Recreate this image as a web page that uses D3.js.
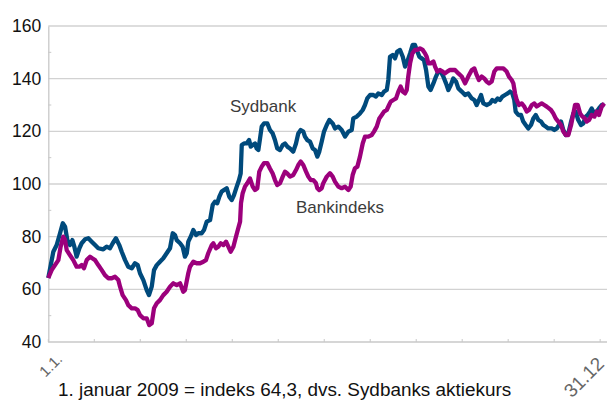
<!DOCTYPE html>
<html>
<head>
<meta charset="utf-8">
<script src="https://d3js.org/d3.v7.min.js"></script>
<style>
  body { margin: 0; background: #fff; }
  svg { display: block; font-family: "Liberation Sans", Arial, sans-serif; }
</style>
</head>
<body>
<div id="chart"></div>
<script>
  // Dag i året (0 = 1.1., 365 = 31.12) og indeksværdier
  var sydbankDage = [0, 3.3, 5.5, 7.7, 9.5, 11.0, 12.5, 14.2, 15.8, 17.1, 18.6, 20.4, 21.9, 24.1, 26.3, 28.5, 30.7, 32.8, 36.1, 38.3,
    40.5, 42.3, 44.4, 46.6, 48.2, 50.4, 52.5, 54.8, 56.9, 58.7, 60.2, 62.4, 64.6, 66.1, 67.9, 69.4, 71.2, 73.3, 75.5, 77.7,
    79.9, 81.7, 83.2, 84.3, 86.5, 88.2, 89.7, 90.9, 91.9, 93.5, 95.2, 97.0, 98.5, 100.7, 102.2, 104.0, 106.2, 107.9, 109.4, 110.9,
    112.3, 113.8, 115.3, 117.1, 118.8, 120.4, 121.9, 123.7, 125.2, 126.3, 127.0, 128.5, 130.2, 131.8, 132.9, 134.2, 135.7, 136.8, 137.9, 139.0,
    140.1, 141.6, 143.8, 145.5, 147.3, 148.8, 150.3, 152.1, 153.9, 155.4, 156.9, 158.7, 160.8, 162.6, 164.1, 165.7, 167.4, 168.5, 170.0, 171.8,
    173.6, 175.1, 176.6, 177.9, 179.5, 181.0, 182.8, 184.5, 186.7, 188.2, 190.4, 192.6, 194.8, 197.0, 199.2, 200.2, 202.5, 204.6, 206.4, 207.9,
    209.4, 211.2, 213.4, 215.1, 216.6, 218.9, 220.4, 222.2, 223.2, 224.3, 226.1, 227.6, 229.1, 230.9, 232.7, 234.2, 235.7, 237.5, 239.2, 240.7,
    241.9, 243.6, 245.1, 246.6, 248.0, 249.5, 251.0, 252.8, 254.5, 256.0, 257.6, 259.3, 261.1, 262.6, 264.2, 265.9, 267.7, 269.2, 271.4, 273.6,
    275.7, 278.0, 279.7, 281.2, 282.7, 284.1, 285.6, 287.8, 290.0, 291.5, 293.3, 295.0, 296.5, 298.1, 299.8, 301.6, 303.1, 304.6, 305.9, 306.8,
    308.6, 310.3, 311.8, 313.4, 315.1, 316.9, 318.4, 320.0, 321.7, 323.5, 325.0, 326.5, 328.2, 330.5, 332.2, 333.8, 335.3, 336.6, 338.1, 339.7,
    341.4, 343.2, 344.7, 346.2, 347.9, 349.7, 351.2, 352.8, 354.1, 355.6, 356.7, 358.5, 360.0, 361.5, 363.3, 365.0];
  var sydbankVaerdi = [64.3, 74.3, 76.8, 81.3, 85.1, 83.8, 78.7, 76.8, 78.7, 76.2, 72.4, 75.6, 77.5, 79.0, 79.4, 78.1, 76.8, 75.6, 75.2, 76.2,
    75.6, 77.5, 79.4, 76.8, 74.3, 71.1, 68.6, 68.0, 69.9, 69.2, 66.1, 63.5, 59.7, 57.8, 61.0, 67.3, 69.2, 70.5, 71.8, 73.7,
    75.6, 81.3, 80.6, 78.7, 77.5, 76.2, 72.4, 73.7, 78.1, 80.0, 82.5, 80.6, 81.3, 81.3, 82.5, 85.7, 86.3, 92.0, 93.3, 92.7,
    95.2, 97.1, 97.7, 98.4, 95.2, 93.9, 95.8, 99.0, 101.5, 104.0, 114.8, 115.4, 115.4, 116.7, 114.2, 114.8, 115.4, 113.5, 112.9, 117.3,
    121.8, 123.0, 123.0, 120.5, 119.2, 116.7, 113.5, 112.9, 114.8, 115.4, 114.2, 113.5, 112.3, 115.4, 119.2, 120.5, 119.9, 118.0, 116.7, 116.1,
    113.5, 112.9, 110.4, 112.3, 116.1, 119.9, 122.4, 124.3, 123.0, 121.1, 121.8, 120.5, 118.0, 119.9, 120.5, 124.9, 125.6, 126.8, 128.1, 130.0,
    132.5, 133.8, 133.8, 133.2, 134.4, 133.8, 135.1, 135.7, 139.5, 148.3, 149.0, 147.7, 150.3, 150.9, 148.3, 144.6, 146.5, 149.6, 152.8, 152.8,
    150.9, 148.3, 147.7, 147.1, 143.3, 137.0, 135.7, 138.2, 140.8, 142.7, 142.7, 140.8, 138.2, 135.7, 137.6, 140.1, 138.9, 136.3, 135.1, 133.8,
    134.4, 132.5, 131.9, 130.0, 131.9, 133.8, 130.6, 130.0, 130.6, 131.9, 131.3, 132.5, 131.9, 133.2, 133.8, 134.4, 135.1, 134.4, 131.9, 127.5,
    126.2, 126.2, 123.7, 122.4, 121.1, 122.4, 124.9, 126.2, 124.3, 123.7, 122.4, 121.8, 121.1, 121.1, 120.5, 121.1, 122.4, 123.7, 120.5, 118.6,
    119.2, 123.7, 126.8, 127.5, 124.3, 122.4, 123.0, 125.6, 126.2, 127.5, 128.7, 126.8, 127.5, 128.7, 130.0, 130.0];

  var bankDage = [0, 2.2, 4.4, 6.6, 8.1, 9.8, 11.0, 12.1, 14.2, 16.4, 18.6, 20.4, 21.9, 23.4, 25.2, 27.4, 29.1, 30.7, 32.8, 35.1,
    37.2, 39.4, 41.6, 43.8, 46.0, 47.1, 48.8, 51.0, 52.5, 54.8, 56.9, 58.7, 60.2, 62.4, 64.6, 66.3, 67.9, 69.4, 71.2, 73.3,
    75.5, 77.7, 79.9, 82.1, 84.3, 86.5, 88.6, 89.7, 91.9, 93.0, 95.2, 97.4, 99.6, 101.8, 103.5, 105.0, 107.3, 108.3, 110.1, 111.6,
    113.2, 114.9, 116.7, 118.2, 119.7, 121.5, 123.2, 124.7, 125.9, 126.5, 127.6, 129.1, 130.6, 132.4, 134.2, 135.7, 137.2, 138.5, 140.1, 141.6,
    143.8, 145.5, 147.3, 148.8, 150.3, 152.1, 153.9, 155.4, 156.9, 158.7, 160.8, 162.6, 164.1, 165.7, 167.4, 169.2, 170.7, 172.3, 174.0, 175.7,
    176.6, 177.9, 179.5, 180.5, 182.8, 184.9, 186.7, 188.2, 190.4, 192.6, 194.8, 197.0, 198.5, 199.8, 201.3, 202.9, 204.6, 206.4, 207.9, 210.1,
    212.3, 213.8, 215.6, 217.3, 218.9, 220.4, 222.2, 223.7, 224.8, 226.5, 228.3, 229.8, 231.3, 232.7, 234.2, 235.3, 236.3, 237.5, 239.0, 240.7,
    242.2, 244.0, 245.8, 247.3, 248.4, 249.5, 251.0, 252.8, 253.9, 255.4, 257.2, 258.9, 260.4, 261.9, 263.7, 265.5, 267.0, 269.2, 271.4, 273.6,
    275.7, 278.0, 279.7, 281.2, 282.7, 284.5, 286.2, 287.8, 289.3, 291.1, 292.8, 294.4, 296.5, 298.7, 300.9, 302.4, 304.2, 305.3, 306.4, 307.5,
    309.0, 310.8, 312.5, 314.1, 315.6, 317.4, 319.1, 320.6, 322.1, 323.9, 325.6, 327.2, 328.7, 330.0, 331.5, 333.1, 334.8, 336.6, 338.1, 339.7,
    341.4, 343.2, 344.7, 345.8, 347.6, 349.1, 350.6, 352.3, 353.5, 355.0, 356.7, 358.5, 360.0, 361.5, 363.3, 365.0];
  var bankVaerdi = [64.3, 67.3, 69.2, 71.1, 76.2, 80.0, 78.7, 74.9, 73.0, 71.1, 68.6, 68.6, 69.2, 68.0, 71.1, 72.4, 71.7, 71.1, 69.2, 67.3,
    65.4, 64.2, 64.2, 64.8, 63.5, 61.0, 57.8, 55.9, 54.0, 52.8, 52.8, 52.1, 50.2, 49.0, 49.0, 46.4, 47.1, 52.8, 54.7, 55.9,
    57.8, 59.1, 61.0, 62.3, 61.6, 62.3, 59.1, 59.7, 66.1, 68.6, 70.5, 69.9, 69.9, 70.5, 71.1, 73.7, 76.8, 77.5, 75.6, 76.2,
    77.5, 76.8, 78.1, 76.2, 74.3, 76.2, 80.0, 83.2, 85.7, 92.7, 96.5, 99.0, 100.3, 102.1, 99.0, 97.7, 98.4, 104.7, 106.6, 107.9,
    107.9, 105.9, 104.0, 101.5, 99.6, 100.3, 102.8, 104.7, 104.0, 102.8, 103.4, 105.3, 107.2, 108.5, 107.2, 104.7, 102.8, 101.5, 101.5, 100.3,
    98.4, 97.7, 98.4, 100.3, 102.8, 104.1, 102.8, 100.9, 99.0, 98.4, 99.0, 97.7, 99.0, 103.4, 106.0, 106.6, 110.4, 115.4, 118.0, 118.0,
    118.6, 119.9, 121.8, 124.9, 126.2, 127.5, 128.1, 130.0, 131.3, 131.9, 132.5, 135.1, 137.0, 135.1, 134.4, 135.7, 140.8, 145.8, 149.6, 150.9,
    150.9, 151.5, 150.9, 149.6, 148.3, 145.8, 145.8, 146.5, 144.6, 142.7, 143.3, 142.7, 142.0, 142.7, 143.3, 143.3, 143.3, 142.0, 140.8, 138.2,
    140.8, 143.3, 143.9, 141.4, 139.5, 140.8, 140.1, 138.9, 138.2, 138.9, 142.7, 143.9, 143.9, 143.9, 142.7, 140.8, 139.5, 138.2, 134.4, 131.9,
    130.0, 130.6, 129.4, 127.5, 128.1, 130.0, 130.6, 129.4, 130.0, 130.6, 130.0, 129.4, 128.7, 128.1, 126.8, 124.9, 123.7, 122.4, 119.9, 118.6,
    118.6, 122.4, 126.8, 130.0, 130.0, 126.8, 125.6, 124.9, 123.7, 124.3, 126.2, 125.6, 127.5, 126.2, 129.4, 130.6];

  var yTicks = [40, 60, 80, 100, 120, 140, 160];
  var yMinor = [50, 70, 90, 110, 130, 150];
  var xTickDage = d3.range(13).map(function(i) { return i * 365 / 12.09; });
  var startLabel = "1.1.";
  var slutLabel = "31.12";
  var fodnote = "1. januar 2009 = indeks 64,3, dvs. Sydbanks aktiekurs";

  var width = 607, height = 401;
  var plot = { left: 48.3, right: 604.3, top: 26, bottom: 342 };

  var svg = d3.select("#chart").append("svg")
    .attr("width", width)
    .attr("height", height);

  var xScale = d3.scaleLinear().domain([0, 365]).range([plot.left, plot.right]);
  var yScale = d3.scaleLinear().domain([40, 160]).range([plot.bottom, plot.top]);

  // gitterlinjer
  svg.append("g")
    .selectAll("line")
    .data(yTicks.slice(1))
    .enter().append("line")
    .attr("x1", plot.left)
    .attr("x2", width)
    .attr("y1", function(d) { return yScale(d); })
    .attr("y2", function(d) { return yScale(d); })
    .attr("stroke", "#d2d2d2")
    .attr("stroke-width", 1.3);

  // y-akse
  var yAxis = svg.append("g")
    .attr("transform", "translate(" + plot.left + ",0)")
    .call(d3.axisLeft(yScale).tickValues(yTicks).tickSize(0).tickPadding(7));
  yAxis.select(".domain").attr("stroke", "#c8c8c8").attr("stroke-width", 1.3);
  yAxis.selectAll("text")
    .style("font-size", "17.5px")
    .attr("fill", "#111");

  svg.append("g")
    .selectAll("line")
    .data(yMinor)
    .enter().append("line")
    .attr("x1", plot.left)
    .attr("x2", plot.left + 3)
    .attr("y1", function(d) { return yScale(d); })
    .attr("y2", function(d) { return yScale(d); })
    .attr("stroke", "#c8c8c8");

  // x-akse
  svg.append("line")
    .attr("x1", plot.left).attr("x2", width)
    .attr("y1", plot.bottom).attr("y2", plot.bottom)
    .attr("stroke", "#c8c8c8")
    .attr("stroke-width", 1.3);

  svg.append("g")
    .selectAll("line")
    .data(xTickDage)
    .enter().append("line")
    .attr("x1", function(d) { return xScale(d); })
    .attr("x2", function(d) { return xScale(d); })
    .attr("y1", plot.bottom)
    .attr("y2", plot.bottom - 3)
    .attr("stroke", "#c8c8c8");

  // kurver
  function serie(dage, vaerdi) {
    return dage.map(function(d, i) { return [d, vaerdi[i]]; });
  }

  var line = d3.line()
    .x(function(d) { return xScale(d[0]); })
    .y(function(d) { return yScale(d[1]); });

  svg.append("path")
    .datum(serie(sydbankDage, sydbankVaerdi))
    .attr("fill", "none")
    .attr("stroke", "#004a7c")
    .attr("stroke-width", 4.3)
    .attr("stroke-linejoin", "round")
    .attr("d", line);

  svg.append("path")
    .datum(serie(bankDage, bankVaerdi))
    .attr("fill", "none")
    .attr("stroke", "#9c007c")
    .attr("stroke-width", 4.3)
    .attr("stroke-linejoin", "round")
    .attr("d", line);

  // etiketter
  svg.append("text")
    .attr("x", 230)
    .attr("y", 112)
    .attr("fill", "#3c3c3c")
    .style("font-size", "17px")
    .text("Sydbank");

  svg.append("text")
    .attr("x", 296)
    .attr("y", 213)
    .attr("fill", "#3c3c3c")
    .style("font-size", "17px")
    .text("Bankindeks");

  svg.append("text")
    .attr("transform", "translate(" + (xScale(0) + 15) + "," + (plot.bottom + 18) + ") rotate(-45)")
    .attr("text-anchor", "end")
    .attr("fill", "#666")
    .style("font-size", "15px")
    .text(startLabel);

  svg.append("text")
    .attr("transform", "translate(" + (xScale(365) + 1) + "," + (plot.bottom + 23) + ") rotate(-45)")
    .attr("text-anchor", "end")
    .attr("fill", "#666")
    .style("font-size", "19px")
    .text(slutLabel);

  svg.append("text")
    .attr("x", 58)
    .attr("y", 396)
    .attr("fill", "#111")
    .style("font-size", "18.9px")
    .text(fodnote);
</script>
</body>
</html>
